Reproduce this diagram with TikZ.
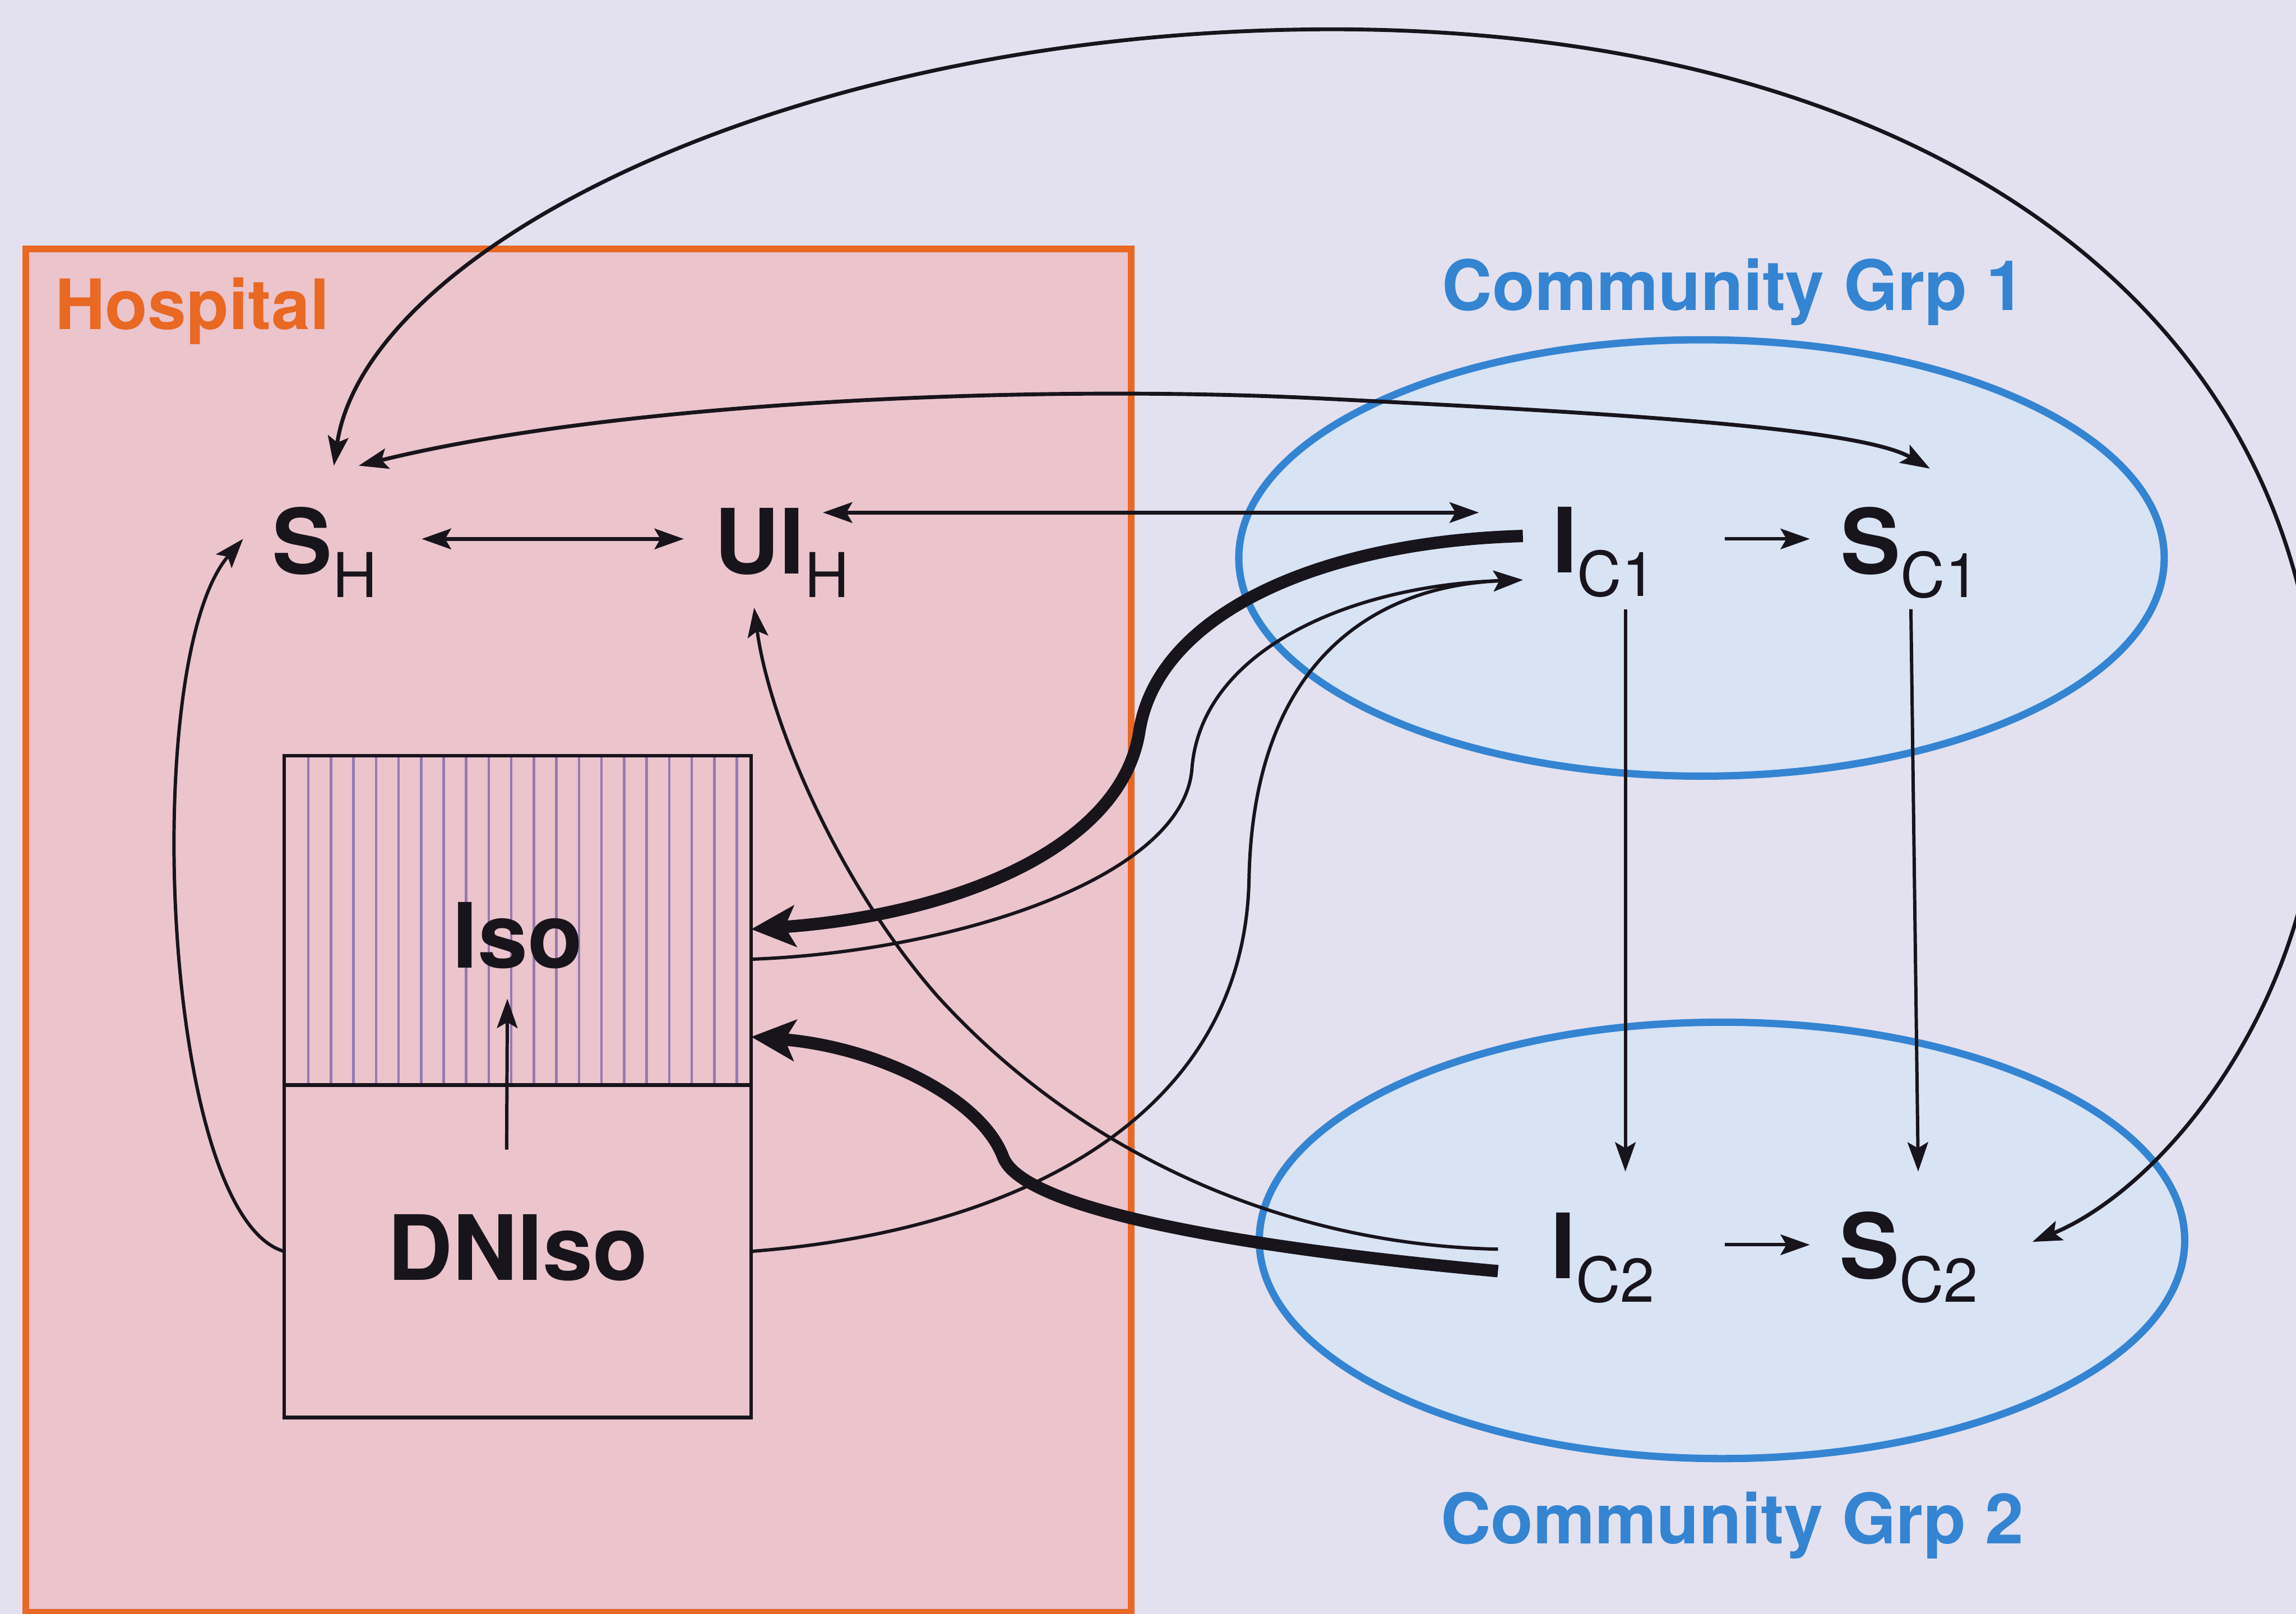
\documentclass[tikz,border=0pt]{standalone}
\usepackage{fontspec}
\setmainfont{TeX Gyre Heros}
\usetikzlibrary{arrows.meta,shapes.geometric}

\definecolor{bglav}{RGB}{227,225,239}
\definecolor{hosppink}{RGB}{235,196,204}
\definecolor{hosporange}{RGB}{232,104,36}
\definecolor{grpfill}{RGB}{216,227,244}
\definecolor{grpblue}{RGB}{52,132,210}
\definecolor{inkdark}{RGB}{24,20,28}
\definecolor{hatchviolet}{RGB}{150,122,178}

% compartment name with its subscript
\newcommand{\compart}[2]{{\fontsize{17.5}{20}\selectfont\bfseries #1}\raisebox{-1.6mm}{\fontsize{12}{12}\selectfont #2}}

\begin{document}
\begin{tikzpicture}[x=0.1mm,y=-0.1mm,
  thinarrow/.style={draw=inkdark, line width=0.65pt, -{Stealth[length=2mm,width=1.4mm,inset=0.4mm]}},
  thinboth/.style={draw=inkdark, line width=0.75pt, {Stealth[length=2mm,width=1.4mm,inset=0.4mm]}-{Stealth[length=2mm,width=1.4mm,inset=0.4mm]}},
  thickarrow/.style={draw=inkdark, line width=2.4pt, -{Stealth[length=3mm,width=2.8mm,inset=0.7mm]}},
  compartment/.style={anchor=base west, inner sep=0pt, outer sep=0pt, text=inkdark},
  isobox/.style={draw=inkdark, line width=0.7pt, fill=hosppink, minimum width=31.9mm, inner sep=0pt, outer sep=0pt, text=inkdark, font=\fontsize{17.5}{20}\selectfont\bfseries},
  grp/.style={ellipse, draw=grpblue, fill=grpfill, line width=0.5mm, minimum width=63.2mm, minimum height=29.8mm, inner sep=0pt},
  grplabel/.style={anchor=base, text=grpblue, font=\fontsize{13.5}{16}\selectfont\bfseries, inner sep=0pt},
  hatchline/.style={draw=hatchviolet, line width=0.5pt}
]
\useasboundingbox (0,0) rectangle (1568,1102);
\fill[bglav] (0,0) rectangle (1568,1102);

% hospital region
\node[draw=hosporange, fill=hosppink, line width=1.3pt, minimum width=75.5mm, minimum height=93.1mm,
      anchor=north west, inner sep=0pt, outer sep=0pt] (hospital) at (17.5,170) {};
\node[anchor=base west, text=hosporange, font=\fontsize{13.5}{16}\selectfont\bfseries, inner sep=0pt] (hosplabel) at (37,225) {Hospital};

% community groups
\node[grp] (grp1) at (1162,381) {};
\node[grp] (grp2) at (1176,847) {};
\node[grplabel] (grp1label) at (1184,212) {Community Grp 1};
\node[grplabel] (grp2label) at (1183,1054) {Community Grp 2};

% isolation and not-yet-isolated boxes
\node[isobox, minimum height=22.5mm, text height=6.5mm, text depth=0pt,
      path picture={\foreach \k in {0,...,19}{\draw[hatchline] ([xshift={1.66mm+\k*1.54mm}]path picture bounding box.south west) -- ([xshift={1.66mm+\k*1.54mm}]path picture bounding box.north west);}}]
      (iso) at (353.5,628.5) {Iso};
\node[isobox, minimum height=22.7mm, text height=6.5mm, text depth=2.6mm] (dniso) at (353.5,854.5) {DNIso};

% compartments
\node[compartment] (sh)  at (186,392)  {\compart{S}{H}};
\node[compartment] (uih) at (488,392)  {\compart{UI}{H}};
\node[compartment] (ic1) at (1060,391) {\compart{I}{C1}};
\node[compartment] (sc1) at (1257,392) {\compart{S}{C1}};
\node[compartment] (ic2) at (1059,873) {\compart{I}{C2}};
\node[compartment] (sc2) at (1256,873) {\compart{S}{C2}};

% large loop between S_H and S_C2
\draw[thinboth] ([shift={(42,-74)}]sh.base west) .. controls (250,170) and (540,20) .. (910,20)
  .. controls (1300,20) and (1584,200) .. (1584,520)
  .. controls (1584,680) and (1480,810) .. ([shift={(132,-25)}]sc2.base west);

% S_H <-> S_C1
\draw[thinboth] ([shift={(59,-74)}]sh.base west) .. controls (420,275) and (700,262) .. (900,272)
  .. controls (1100,282) and (1270,292) .. ([shift={(61,-72)}]sc1.base west);

% straight exchanges
\draw[thinboth] ([shift={(102,-24)}]sh.base west) -- ([shift={(-21,-24)}]uih.base west);
\draw[thinboth] ([shift={(74,-42)}]uih.base west) -- ([shift={(-50,-41)}]ic1.base west);
\draw[thinarrow] ([shift={(118,-23)}]ic1.base west) -- ([shift={(-21,-24)}]sc1.base west);
\draw[thinarrow] ([shift={(119,-23)}]ic2.base west) -- ([shift={(-20,-23)}]sc2.base west);
\draw[thinarrow] ([shift={(50,25)}]ic1.base west) -- ([shift={(51,-73)}]ic2.base west);
\draw[thinarrow] ([shift={(48,24)}]sc1.base west) -- ([shift={(54,-73)}]sc2.base west);

% admissions into isolation
\draw[thickarrow] ([shift={(-20,-25)}]ic1.base west) .. controls (900,370) and (790,420) .. (778,500)
  .. controls (765,580) and (650,625) .. ([shift={(0,6)}]iso.east);
\draw[thickarrow] ([shift={(-36,-5)}]ic2.base west) .. controls (880,855) and (700,830) .. (685,790)
  .. controls (670,750) and (600,715) .. ([shift={(0,79.5)}]iso.east);

% discharges back to community group 1
\draw[thinarrow] ([shift={(0,26.5)}]iso.east) .. controls (650,650) and (808,600) .. (814,525)
  .. controls (820,445) and (920,400) .. ([shift={(-20,5)}]ic1.base west);
\draw[thinarrow] (dniso.east) .. controls (700,840) and (850,760) .. (853,600)
  .. controls (856,450) and (940,400) .. ([shift={(-20,5)}]ic1.base west);

% I_C2 -> UI_H
\draw[thinarrow] ([shift={(-36,-20)}]ic2.base west) .. controls (880,850) and (740,790) .. (640,680)
  .. controls (570,600) and (525,490) .. ([shift={(27,23)}]uih.base west);

% DNIso -> S_H
\draw[thinarrow] (dniso.west) .. controls (110,830) and (95,450) .. ([shift={(-20,-24)}]sh.base west);

% DNIso -> Iso
\draw[thinarrow] ([shift={(-7.5,44)}]dniso.north) -- ([shift={(-7,-59)}]iso.south);
\end{tikzpicture}
\end{document}
